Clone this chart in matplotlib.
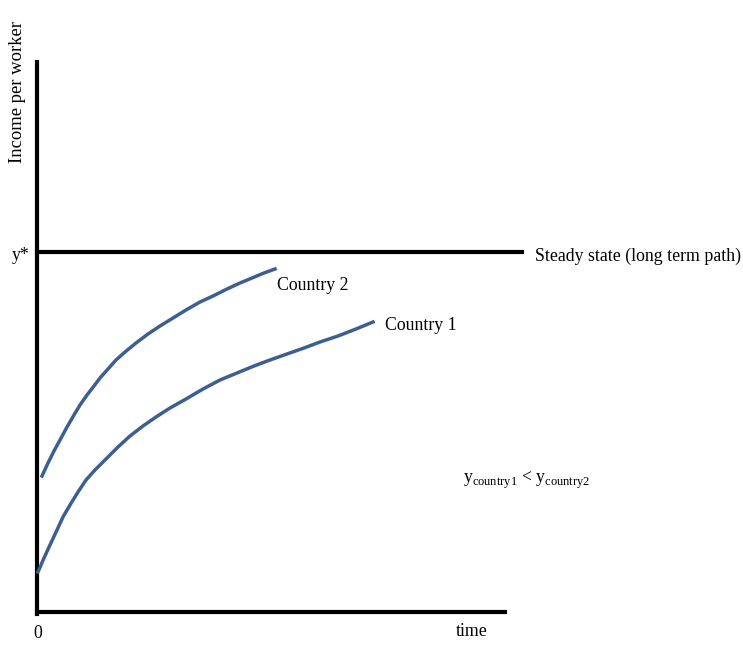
import matplotlib
matplotlib.use("Agg")
import matplotlib.pyplot as plt

# curve points (pixel coords, y down)
c2_x = [42, 48, 54, 60, 67, 74, 80, 87, 94, 100, 108, 116, 125, 136, 148, 160, 173, 186, 200, 213, 227, 240, 252, 264, 275]
c2_y = [476, 463, 451, 440, 427, 415, 405, 395, 386, 378, 369, 360, 352, 343, 334, 326, 318, 310, 302, 296, 289, 283, 278, 273, 269]
c1_x = [38, 44, 50, 57, 63, 70, 78, 86, 95, 106, 118, 130, 143, 156, 170, 186, 203, 220, 237, 254, 270, 287, 304, 320, 338, 356, 373]
c1_y = [572, 558, 545, 530, 517, 505, 492, 480, 470, 459, 447, 436, 426, 417, 408, 399, 389, 380, 373, 366, 360, 354, 348, 342, 336, 329, 322]
steady_y = 252

plt.rcParams["font.family"] = ["Liberation Serif", "DejaVu Serif"]
fig = plt.figure(figsize=(7.43, 6.48), dpi=100)
ax = fig.add_axes([0, 0, 1, 1])
ax.set_xlim(0, 743); ax.set_ylim(648, 0); ax.axis("off")

ax.plot([37, 37], [62, 614], color="black", lw=3)
ax.plot([37, 505], [612, 612], color="black", lw=3)
ax.plot([37, 522], [steady_y, steady_y], color="black", lw=3)
ax.plot(c2_x, c2_y, color="#3d5f8f", lw=2.5, solid_joinstyle="round")
ax.plot(c1_x, c1_y, color="#3d5f8f", lw=2.5, solid_joinstyle="round")

fs = 12.8
ax.text(18, 92, "Income per worker", rotation=90, ha="center", va="center", fontsize=fs + 0.6)
ax.text(12, 255, "y*", ha="left", va="center", fontsize=fs)
ax.text(38, 634, "0", ha="center", va="center", fontsize=fs)
ax.text(456, 632, "time", ha="left", va="center", fontsize=fs)
ax.text(535, 256, "Steady state (long term path)", ha="left", va="center", fontsize=fs)
ax.text(277, 286, "Country 2", ha="left", va="center", fontsize=fs)
ax.text(385, 325, "Country 1", ha="left", va="center", fontsize=fs)
ax.text(463, 480, r"y$_{\mathregular{country1}}$ < y$_{\mathregular{country2}}$",
        ha="left", va="center", fontsize=fs)

fig.savefig("out.png", dpi=100)
